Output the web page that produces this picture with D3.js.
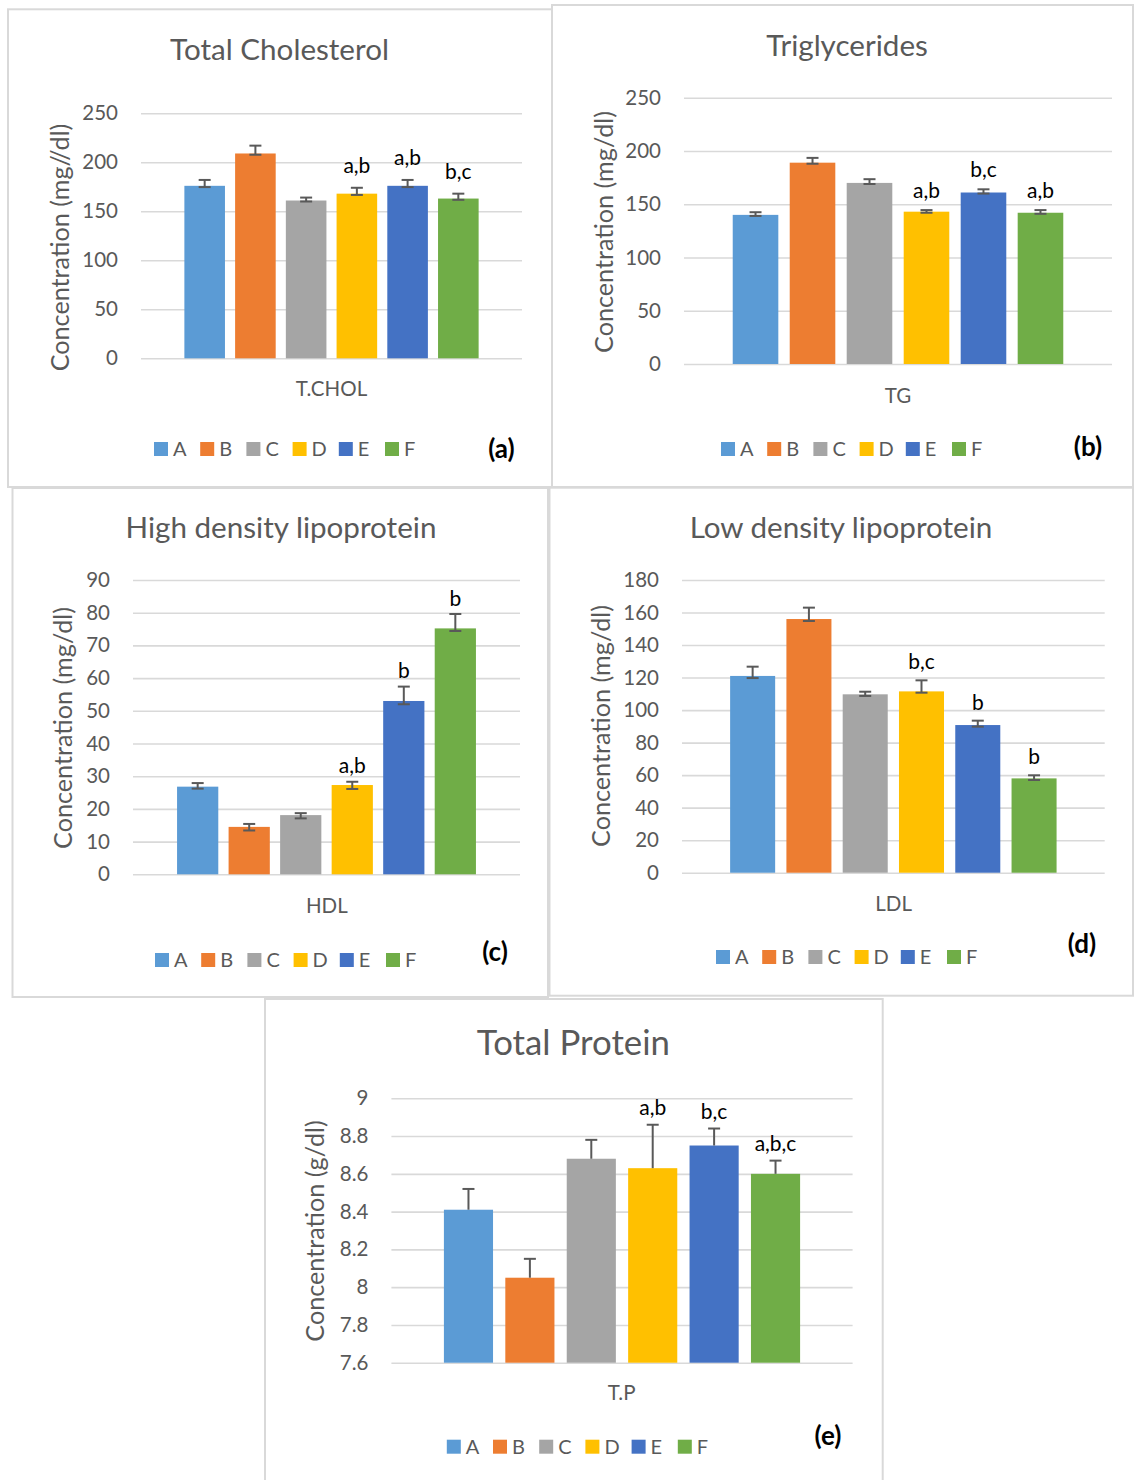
<!DOCTYPE html>
<html>
<head>
<meta charset="utf-8">
<script src="https://cdn.jsdelivr.net/npm/d3@7"></script>
<style>
  html, body { margin: 0; padding: 0; background: #ffffff; }
  svg { display: block; }
  text { font-family: Lato, "Open Sans", sans-serif; }
</style>
</head>
<body>
<svg id="fig" width="1134" height="1480"></svg>
<script>
// Treatment groups shared by every panel
const groups = ["A", "B", "C", "D", "E", "F"];
const groupColors = ["#5B9BD5", "#ED7D31", "#A5A5A5", "#FFC000", "#4472C4", "#70AD47"];

// (a) Total cholesterol, mg/dl
const tcholValues = [176, 209, 161, 168, 176, 163];
const tcholErrUp = [6, 8, 3, 6, 6, 5];
const tcholErrDown = [1.3, 1.3, 1, 1.3, 1.3, 1.3];
const tcholLetters = ["", "", "", "a,b", "a,b", "b,c"];
const tcholTicks = [0, 50, 100, 150, 200, 250];

// (b) Triglycerides, mg/dl
const tgValues = [140, 189, 170, 143, 161, 142];
const tgErrUp = [2.5, 4.5, 3.5, 1.5, 3, 2.5];
const tgErrDown = [1, 1, 1, 1, 1, 1];
const tgLetters = ["", "", "", "a,b", "b,c", "a,b"];
const tgTicks = [0, 50, 100, 150, 200, 250];

// (c) High density lipoprotein, mg/dl
const hdlValues = [26.8, 14.5, 18.1, 27.3, 53.0, 75.2];
const hdlErrUp = [1.1, 0.9, 0.6, 1.0, 4.4, 4.4];
const hdlErrDown = [0.6, 1.1, 1.0, 1.2, 1.0, 0.8];
const hdlLetters = ["", "", "", "a,b", "b", "b"];
const hdlTicks = [0, 10, 20, 30, 40, 50, 60, 70, 80, 90];

// (d) Low density lipoprotein, mg/dl
const ldlValues = [121, 156, 109.7, 111.5, 90.8, 58];
const ldlErrUp = [5.7, 7, 1.6, 6.8, 2.7, 1.9];
const ldlErrDown = [1.3, 1.2, 1, 0.8, 1, 1];
const ldlLetters = ["", "", "", "b,c", "b", "b"];
const ldlTicks = [0, 20, 40, 60, 80, 100, 120, 140, 160, 180];

// (e) Total protein, g/dl (plus-only error bars)
const tpValues = [8.41, 8.05, 8.68, 8.63, 8.75, 8.60];
const tpErrUp = [0.11, 0.10, 0.10, 0.23, 0.09, 0.07];
const tpLetters = ["", "", "", "a,b", "b,c", "a,b,c"];
const tpTicks = [7.6, 7.8, 8, 8.2, 8.4, 8.6, 8.8, 9];
const tpTickLabels = ["7.6", "7.8", "8", "8.2", "8.4", "8.6", "8.8", "9"];

const TEXT_GREY = "#595959";
const GRID = "#D9D9D9";

const panels = [
  {
    title: "Total Cholesterol", yTitle: "Concentration (mg//dl)", category: "T.CHOL", tag: "(a)",
    values: tcholValues, errUp: tcholErrUp, errDown: tcholErrDown, letters: tcholLetters,
    ticks: tcholTicks, tickLabels: tcholTicks.map(String), domain: [0, 250],
    box: [8, 9.3, 552, 487], plot: [141, 113.3, 522, 358.3],
    titlePos: [279.5, 60], titleSize: 29.6, yTitlePos: [60, 247.5], catPos: [331.5, 396],
    legendPos: [154, 449], tagPos: [501.5, 458], letterGap: 15
  },
  {
    title: "Triglycerides", yTitle: "Concentration (mg/dl)", category: "TG", tag: "(b)",
    values: tgValues, errUp: tgErrUp, errDown: tgErrDown, letters: tgLetters,
    ticks: tgTicks, tickLabels: tgTicks.map(String), domain: [0, 250],
    box: [552, 5, 1133, 487], plot: [684, 97.7, 1112, 364],
    titlePos: [847, 56], titleSize: 29.6, yTitlePos: [604, 232], catPos: [898, 403],
    legendPos: [721, 449], tagPos: [1088, 456], letterGap: 12
  },
  {
    title: "High density lipoprotein", yTitle: "Concentration (mg/dl)", category: "HDL", tag: "(c)",
    values: hdlValues, errUp: hdlErrUp, errDown: hdlErrDown, letters: hdlLetters,
    ticks: hdlTicks, tickLabels: hdlTicks.map(String), domain: [0, 90],
    box: [12.5, 488, 548, 997], plot: [133, 580, 520, 874.3],
    titlePos: [281, 537.7], titleSize: 29.6, yTitlePos: [63.4, 728], catPos: [326.8, 913],
    legendPos: [155, 960], tagPos: [495, 960.5], letterGap: 8.5
  },
  {
    title: "Low density lipoprotein", yTitle: "Concentration (mg/dl)", category: "LDL", tag: "(d)",
    values: ldlValues, errUp: ldlErrUp, errDown: ldlErrDown, letters: ldlLetters,
    ticks: ldlTicks, tickLabels: ldlTicks.map(String), domain: [0, 180],
    box: [549.5, 487.7, 1133, 995.7], plot: [682, 580, 1104.7, 872.7],
    titlePos: [841, 537.7], titleSize: 29.6, yTitlePos: [601, 726], catPos: [893.6, 911],
    legendPos: [716, 957], tagPos: [1082, 952.7], letterGap: 11
  },
  {
    title: "Total Protein", yTitle: "Concentration (g/dl)", category: "T.P", tag: "(e)",
    values: tpValues, errUp: tpErrUp, errDown: null, letters: tpLetters,
    ticks: tpTicks, tickLabels: tpTickLabels, domain: [7.6, 9],
    box: [265, 999, 882.7, 1495], plot: [391.4, 1098.3, 852.6, 1362.7],
    titlePos: [573.4, 1055], titleSize: 34.8, yTitlePos: [315, 1231], catPos: [621.6, 1400],
    legendPos: [446.8, 1446.7], tagPos: [828, 1444.5], letterGap: 10
  }
];

const svg = d3.select("#fig");

function drawPanel(p) {
  const g = svg.append("g");
  const [bx0, by0, bx1, by1] = p.box;
  const [px0, py0, px1, py1] = p.plot;

  // panel frame
  g.append("rect")
    .attr("x", bx0).attr("y", by0)
    .attr("width", bx1 - bx0).attr("height", by1 - by0)
    .attr("fill", "#ffffff").attr("stroke", GRID).attr("stroke-width", 2);

  const y = d3.scaleLinear().domain(p.domain).range([py1, py0]);
  const x = d3.scaleBand().domain(groups).range([px0, px1])
    .paddingInner(0.2).paddingOuter(0.855);

  // value axis with gridlines
  const axis = d3.axisLeft(y)
    .tickValues(p.ticks)
    .tickFormat((d, i) => p.tickLabels[i])
    .tickSize(-(px1 - px0))
    .tickPadding(23);
  const ax = g.append("g").attr("transform", `translate(${px0},0)`).call(axis);
  ax.select(".domain").remove();
  ax.selectAll(".tick line").attr("stroke", GRID).attr("stroke-width", 1.6);
  ax.selectAll(".tick text")
    .attr("fill", TEXT_GREY).style("font-size", "20.5px").style("font-family", "Lato");

  // bars
  const rows = groups.map((k, i) => ({
    key: k, value: p.values[i], up: p.errUp[i],
    down: p.errDown ? p.errDown[i] : null, letter: p.letters[i], color: groupColors[i]
  }));

  g.selectAll("rect.bar").data(rows).join("rect")
    .attr("class", "bar")
    .attr("x", d => x(d.key))
    .attr("width", x.bandwidth())
    .attr("y", d => y(d.value))
    .attr("height", d => y(p.domain[0]) - y(d.value))
    .attr("fill", d => d.color);

  // error bars
  const capHalf = 6;
  const eb = g.selectAll("g.err").data(rows).join("g").attr("class", "err")
    .attr("stroke", "#595959").attr("stroke-width", 2).attr("fill", "none");
  eb.append("line")
    .attr("x1", d => x(d.key) + x.bandwidth() / 2)
    .attr("x2", d => x(d.key) + x.bandwidth() / 2)
    .attr("y1", d => y(d.down == null ? d.value : d.value - d.down))
    .attr("y2", d => y(d.value + d.up));
  eb.append("line")
    .attr("x1", d => x(d.key) + x.bandwidth() / 2 - capHalf)
    .attr("x2", d => x(d.key) + x.bandwidth() / 2 + capHalf)
    .attr("y1", d => y(d.value + d.up))
    .attr("y2", d => y(d.value + d.up));
  eb.filter(d => d.down != null).append("line")
    .attr("x1", d => x(d.key) + x.bandwidth() / 2 - capHalf)
    .attr("x2", d => x(d.key) + x.bandwidth() / 2 + capHalf)
    .attr("y1", d => y(d.value - d.down))
    .attr("y2", d => y(d.value - d.down));

  // significance letters
  g.selectAll("text.sig").data(rows.filter(d => d.letter)).join("text")
    .attr("class", "sig")
    .attr("x", d => x(d.key) + x.bandwidth() / 2)
    .attr("y", d => y(d.value + d.up) - p.letterGap)
    .attr("text-anchor", "middle")
    .attr("fill", "#000000")
    .style("font-size", "21px")
    .text(d => d.letter);

  // chart title
  g.append("text")
    .attr("x", p.titlePos[0]).attr("y", p.titlePos[1])
    .attr("text-anchor", "middle").attr("fill", TEXT_GREY)
    .style("font-size", p.titleSize + "px")
    .text(p.title);

  // value-axis title
  g.append("text")
    .attr("transform", `translate(${p.yTitlePos[0]},${p.yTitlePos[1]}) rotate(-90)`)
    .attr("text-anchor", "middle").attr("dy", "0.35em").attr("fill", TEXT_GREY)
    .style("font-size", "25.2px")
    .text(p.yTitle);

  // category label
  g.append("text")
    .attr("x", p.catPos[0]).attr("y", p.catPos[1])
    .attr("text-anchor", "middle").attr("fill", TEXT_GREY)
    .style("font-size", "20.5px")
    .text(p.category);

  // legend
  const lg = g.append("g").attr("transform", `translate(${p.legendPos[0]},${p.legendPos[1]})`);
  const item = lg.selectAll("g").data(groups).join("g")
    .attr("transform", (d, i) => `translate(${i * 46.2},0)`);
  item.append("rect")
    .attr("x", 0).attr("y", -7).attr("width", 14).attr("height", 14)
    .attr("fill", (d, i) => groupColors[i]);
  item.append("text")
    .attr("x", 19).attr("y", 0).attr("dy", "0.36em")
    .attr("fill", TEXT_GREY).style("font-size", "20px")
    .text(d => d);

  // panel tag
  g.append("text")
    .attr("x", p.tagPos[0]).attr("y", p.tagPos[1])
    .attr("text-anchor", "middle").attr("fill", "#000000")
    .style("font-size", "26px").style("font-weight", "bold")
    .text(p.tag);
}

panels.forEach(drawPanel);
</script>
</body>
</html>
